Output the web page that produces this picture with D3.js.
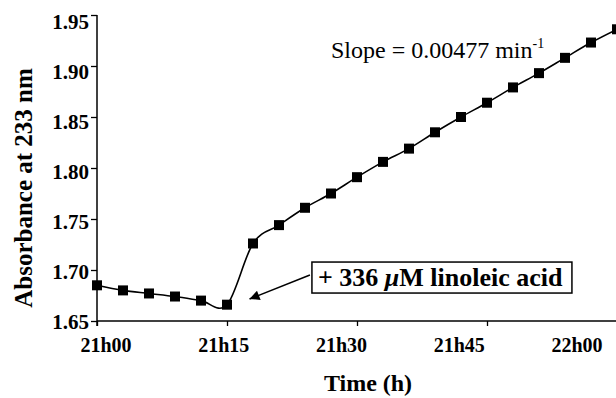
<!DOCTYPE html>
<html>
<head>
<meta charset="utf-8">
<script src="https://cdn.jsdelivr.net/npm/d3@7"></script>
<style>
    body { margin: 0; background: #fff; }
    svg { display: block; font-family: "Liberation Serif", "Times New Roman", serif; }
</style>
</head>
<body>
<svg id="chart" width="616" height="398"></svg>
<script>
// minutes after 21h00, one reading every 3 min
var minutes = [0, 3, 6, 9, 12, 15, 18, 21, 24, 27, 30, 33, 36, 39, 42, 45, 48, 51, 54, 57, 60];
var absorbance = [1.685, 1.680, 1.677, 1.674, 1.670, 1.666, 1.726, 1.744, 1.761, 1.775,
                  1.791, 1.806, 1.819, 1.835, 1.850, 1.864, 1.879, 1.893, 1.908, 1.923, 1.936];

var xTicks = [0, 15, 30, 45, 60];
var xTickLabels = ["21h00", "21h15", "21h30", "21h45", "22h00"];
var yTicks = [1.65, 1.70, 1.75, 1.80, 1.85, 1.90, 1.95];

var svg = d3.select("#chart");

var x = d3.scaleLinear().domain([0, 60]).range([97, 617]);
var y = d3.scaleLinear().domain([1.65, 1.95]).range([321, 15]);

// labels in the scan drift a bit from their ticks
var xLabel = d3.scaleLinear().domain([0, 60]).range([106, 577]);
var yLabel = d3.scaleLinear().domain([1.65, 1.95]).range([322, 22]);

var data = minutes.map(function (m, i) { return { t: m, v: absorbance[i] }; });

// axes
var yAxis = d3.axisLeft(y).tickValues(yTicks).tickSize(6).tickFormat("");
svg.append("g")
    .attr("transform", "translate(" + x(0) + ",0)")
    .call(yAxis)
    .call(function (g) {
        g.select(".domain").attr("stroke-width", 1.5).attr("d", "M0," + y(1.95) + "V" + (y(1.65) + 5));
        g.selectAll(".tick line").attr("stroke-width", 1.3);
    });

var xAxis = d3.axisBottom(x).tickValues(xTicks).tickSize(5).tickFormat("");
svg.append("g")
    .attr("transform", "translate(0," + y(1.65) + ")")
    .call(xAxis)
    .call(function (g) {
        g.select(".domain").attr("stroke-width", 1.6).attr("d", "M" + x(0) + ",0H616");
        g.selectAll(".tick line").attr("stroke-width", 1.3);
    });

svg.append("g").selectAll("text")
    .data(yTicks)
    .enter().append("text")
    .attr("x", 89)
    .attr("y", function (d) { return yLabel(d) + 7; })
    .attr("text-anchor", "end")
    .style("font-size", "21px")
    .style("font-weight", "bold")
    .text(function (d) { return d.toFixed(2); });

svg.append("g").selectAll("text")
    .data(xTicks)
    .enter().append("text")
    .attr("x", function (d) { return xLabel(d); })
    .attr("y", 352)
    .attr("text-anchor", "middle")
    .style("font-size", "20px")
    .style("font-weight", "bold")
    .text(function (d, i) { return xTickLabels[i]; });

// axis titles
svg.append("text")
    .attr("x", 368)
    .attr("y", 391)
    .attr("text-anchor", "middle")
    .style("font-size", "24px")
    .style("font-weight", "bold")
    .text("Time (h)");

svg.append("text")
    .attr("transform", "translate(32,188) rotate(-90)")
    .attr("text-anchor", "middle")
    .style("font-size", "25px")
    .style("font-weight", "bold")
    .text("Absorbance at 233 nm");

// smoothed line + square markers
var line = d3.line()
    .x(function (d) { return x(d.t); })
    .y(function (d) { return y(d.v); })
    .curve(d3.curveCardinal.tension(0));

svg.append("path")
    .datum(data)
    .attr("fill", "none")
    .attr("stroke", "#000")
    .attr("stroke-width", 1.6)
    .attr("d", line);

svg.append("g").selectAll("rect")
    .data(data)
    .enter().append("rect")
    .attr("x", function (d) { return x(d.t) - 5; })
    .attr("y", function (d) { return y(d.v) - 5; })
    .attr("width", 10)
    .attr("height", 10)
    .attr("fill", "#000");

// slope annotation
var slope = svg.append("text")
    .attr("x", 331)
    .attr("y", 58)
    .style("font-size", "24px");
slope.append("tspan").text("Slope = 0.00477 min");
slope.append("tspan").attr("dy", -10).style("font-size", "14px").text("-1");

// addition annotation: box + arrow (anchored in data units)
var boxT = 24.8, boxV = 1.7078;
var tipT = 17.6, tipV = 1.6716;

svg.append("defs").append("marker")
    .attr("id", "head")
    .attr("viewBox", "0 0 10 10")
    .attr("refX", 10).attr("refY", 5)
    .attr("markerWidth", 14).attr("markerHeight", 10)
    .attr("markerUnits", "userSpaceOnUse")
    .attr("orient", "auto")
    .append("path")
    .attr("d", "M0,0L10,5L0,10Z")
    .attr("fill", "#000");

svg.append("line")
    .attr("x1", x(boxT) - 2)
    .attr("y1", y(boxV) + 13)
    .attr("x2", x(tipT))
    .attr("y2", y(tipV))
    .attr("stroke", "#000")
    .attr("stroke-width", 1.5)
    .attr("marker-end", "url(#head)");

var note = svg.append("g").attr("transform", "translate(" + x(boxT) + "," + y(boxV) + ")");
note.append("rect")
    .attr("width", 260)
    .attr("height", 31)
    .attr("fill", "#fff")
    .attr("stroke", "#000")
    .attr("stroke-width", 1.5);
var noteText = note.append("text")
    .attr("x", 6)
    .attr("y", 24)
    .style("font-size", "26px")
    .style("font-weight", "bold");
noteText.append("tspan").text("+ 336 ");
noteText.append("tspan").style("font-style", "italic").text("\u03bc");
noteText.append("tspan").text("M linoleic acid");
</script>
</body>
</html>
